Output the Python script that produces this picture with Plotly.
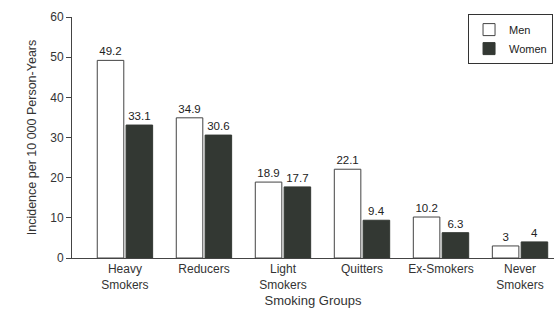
import plotly.graph_objects as go

categories = ["Heavy<br>Smokers", "Reducers", "Light<br>Smokers", "Quitters", "Ex-Smokers", "Never<br>Smokers"]
men = [49.2, 34.9, 18.9, 22.1, 10.2, 3]
women = [33.1, 30.6, 17.7, 9.4, 6.3, 4]
men_labels = ["49.2", "34.9", "18.9", "22.1", "10.2", "3"]
women_labels = ["33.1", "30.6", "17.7", "9.4", "6.3", "4"]

FAM = "Liberation Sans, Arial, sans-serif"
font = dict(family=FAM, size=12, color="#333333")

fig = go.Figure()
fig.add_trace(go.Bar(
    x=list(range(len(categories))), y=men, name="Men",
    marker=dict(color="white", line=dict(color="#444444", width=1)),
    text=men_labels, textposition="outside", cliponaxis=False,
    textfont=dict(family=FAM, size=11.5, color="#222222"),
))
fig.add_trace(go.Bar(
    x=list(range(len(categories))), y=women, name="Women",
    marker=dict(color="#333833", line=dict(color="#333833", width=1)),
    text=women_labels, textposition="outside", cliponaxis=False,
    textfont=dict(family=FAM, size=11.5, color="#222222"),
))

fig.update_layout(
    width=554, height=315,
    margin=dict(l=72, r=0, t=17, b=57),
    paper_bgcolor="white", plot_bgcolor="white",
    barmode="group", bargap=0.27, bargroupgap=0.08,
    font=font,
    showlegend=True,
    legend=dict(x=0.998, y=1.012, xanchor="right", yanchor="top",
                bordercolor="#333333", borderwidth=1,
                font=dict(family=FAM, size=11, color="#222222"),
                itemwidth=30, tracegroupgap=0, bgcolor="white"),
    xaxis=dict(
        range=[-0.67, 5.43], automargin=False,
        tickmode="array", tickvals=list(range(len(categories))), ticktext=categories,
        showline=True, linecolor="#444444", linewidth=1,
        ticks="", showgrid=False, zeroline=False,
        title=dict(text="Smoking Groups", font=dict(family=FAM, size=13, color="#333333"), standoff=4),
        tickfont=dict(family=FAM, size=12, color="#333333"),
    ),
    yaxis=dict(
        range=[0, 60], dtick=10, automargin=False,
        showline=True, linecolor="#444444", linewidth=1,
        ticks="outside", ticklen=5, tickcolor="#444444",
        showgrid=False, zeroline=False,
        title=dict(text="Incidence per 10 000 Person-Years", font=dict(family=FAM, size=12.5, color="#333333"), standoff=10),
        tickfont=dict(family=FAM, size=12, color="#333333"),
    ),
)

fig.write_html("out.html", config={"displayModeBar": False},
               post_script="document.body.style.margin='0';document.body.style.overflow='hidden';")
